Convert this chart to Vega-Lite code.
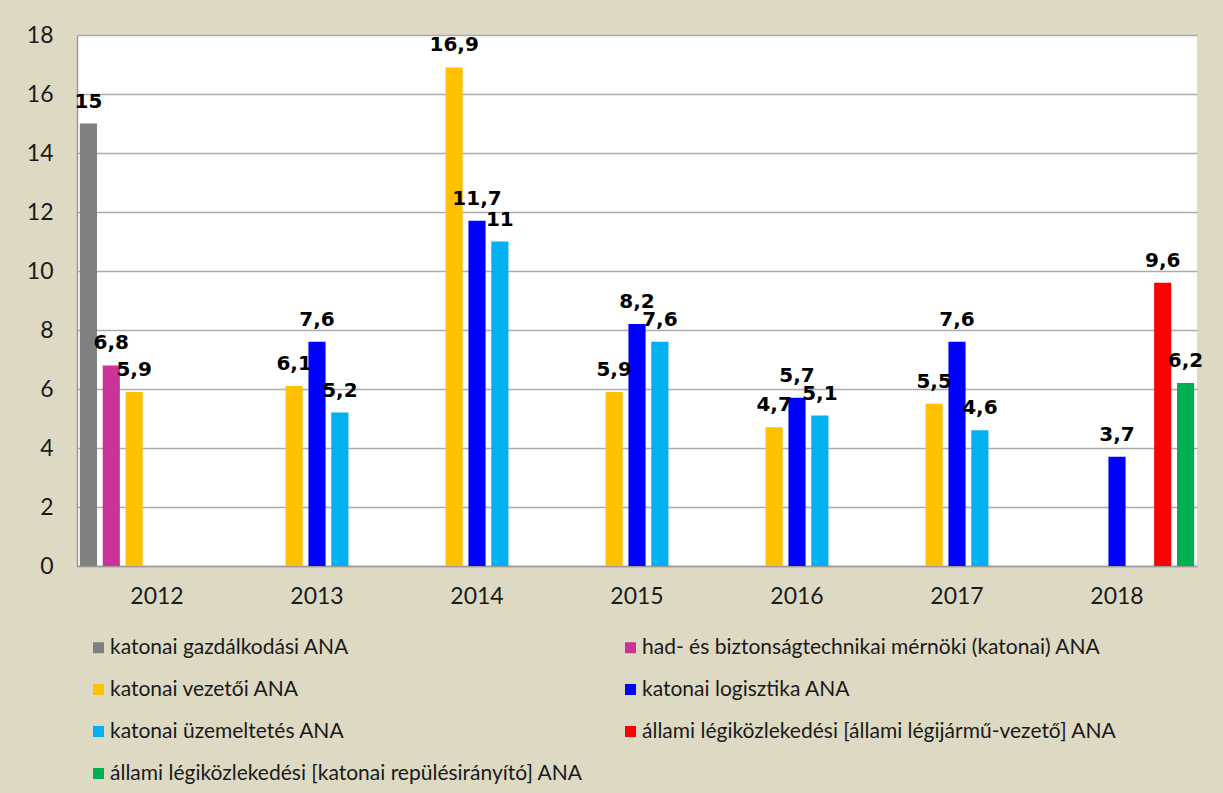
{
  "$schema": "https://vega.github.io/schema/vega-lite/v6.json",
  "width": 1120,
  "height": 531,
  "autosize": {"type": "none"},
  "padding": {"left": 77, "top": 35, "right": 26, "bottom": 227},
  "background": "#DDD9C3",
  "config": {
    "view": {"fill": "white", "stroke": null},
    "locale": {"number": {"decimal": ",", "thousands": " ", "grouping": [3], "currency": ["", " Ft"]}},
    "axis": {"labelFont": "Lato", "labelColor": "#1a1a1a"}
  },
  "data": {
    "values": [
      {"year": "2012", "series": "katonai gazdálkodási ANA", "value": 15},
      {"year": "2012", "series": "had- és biztonságtechnikai mérnöki (katonai) ANA", "value": 6.8},
      {"year": "2012", "series": "katonai vezetői ANA", "value": 5.9},
      {"year": "2013", "series": "katonai vezetői ANA", "value": 6.1},
      {"year": "2013", "series": "katonai logisztika ANA", "value": 7.6},
      {"year": "2013", "series": "katonai üzemeltetés ANA", "value": 5.2},
      {"year": "2014", "series": "katonai vezetői ANA", "value": 16.9},
      {"year": "2014", "series": "katonai logisztika ANA", "value": 11.7},
      {"year": "2014", "series": "katonai üzemeltetés ANA", "value": 11},
      {"year": "2015", "series": "katonai vezetői ANA", "value": 5.9},
      {"year": "2015", "series": "katonai logisztika ANA", "value": 8.2},
      {"year": "2015", "series": "katonai üzemeltetés ANA", "value": 7.6},
      {"year": "2016", "series": "katonai vezetői ANA", "value": 4.7},
      {"year": "2016", "series": "katonai logisztika ANA", "value": 5.7},
      {"year": "2016", "series": "katonai üzemeltetés ANA", "value": 5.1},
      {"year": "2017", "series": "katonai vezetői ANA", "value": 5.5},
      {"year": "2017", "series": "katonai logisztika ANA", "value": 7.6},
      {"year": "2017", "series": "katonai üzemeltetés ANA", "value": 4.6},
      {"year": "2018", "series": "katonai logisztika ANA", "value": 3.7},
      {"year": "2018", "series": "állami légiközlekedési [állami légijármű-vezető] ANA", "value": 9.6},
      {"year": "2018", "series": "állami légiközlekedési [katonai repülésirányító] ANA", "value": 6.2}
    ]
  },
  "encoding": {
    "x": {
      "field": "year", "type": "nominal",
      "scale": {"paddingInner": 0, "paddingOuter": 0},
      "axis": {"title": null, "labelAngle": 0, "ticks": false, "labelFontSize": 23, "labelPadding": 19, "domainColor": "#9a9a9a", "domainWidth": 1.5, "grid": false}
    },
    "xOffset": {
      "field": "series", "type": "nominal",
      "scale": {
        "domain": ["katonai gazdálkodási ANA", "had- és biztonságtechnikai mérnöki (katonai) ANA", "katonai vezetői ANA", "katonai logisztika ANA", "katonai üzemeltetés ANA", "állami légiközlekedési [állami légijármű-vezető] ANA", "állami légiközlekedési [katonai repülésirányító] ANA"],
        "paddingInner": 0.25, "paddingOuter": 0.125
      }
    },
    "y": {
      "field": "value", "type": "quantitative",
      "scale": {"domain": [0, 18], "nice": false},
      "axis": {"title": null, "values": [0, 2, 4, 6, 8, 10, 12, 14, 16, 18], "ticks": false, "labelFontSize": 23, "labelPadding": 24, "gridColor": "#ABABAB", "gridWidth": 1.3, "domainColor": "#9a9a9a", "domainWidth": 1.5}
    }
  },
  "layer": [
    {
      "mark": {"type": "bar"},
      "encoding": {
        "color": {
          "field": "series", "type": "nominal",
          "scale": {
            "domain": ["katonai gazdálkodási ANA", "katonai vezetői ANA", "katonai üzemeltetés ANA", "állami légiközlekedési [katonai repülésirányító] ANA", "had- és biztonságtechnikai mérnöki (katonai) ANA", "katonai logisztika ANA", "állami légiközlekedési [állami légijármű-vezető] ANA"],
            "range": ["#808080", "#FFC000", "#00B0F0", "#00B050", "#CC3399", "#0000FF", "#FF0000"]
          },
          "legend": {
            "title": null,
            "orient": "none",
            "legendX": 11,
            "legendY": 602,
            "columns": 2,
            "gridAlign": "all",
            "columnPadding": 35,
            "rowPadding": 20,
            "symbolType": "square",
            "symbolSize": 121,
            "symbolStrokeWidth": 0,
            "labelFont": "Lato",
            "labelFontSize": 21,
            "labelColor": "#1a1a1a",
            "labelOffset": 1,
            "labelLimit": 700,
            "padding": 0
          }
        }
      }
    },
    {
      "mark": {"type": "text", "font": "DejaVu Sans", "fontWeight": "bold", "fontSize": 20, "baseline": "alphabetic", "dy": -16, "color": "black"},
      "encoding": {
        "text": {"field": "value", "type": "quantitative", "format": ".1~f"}
      }
    }
  ]
}
